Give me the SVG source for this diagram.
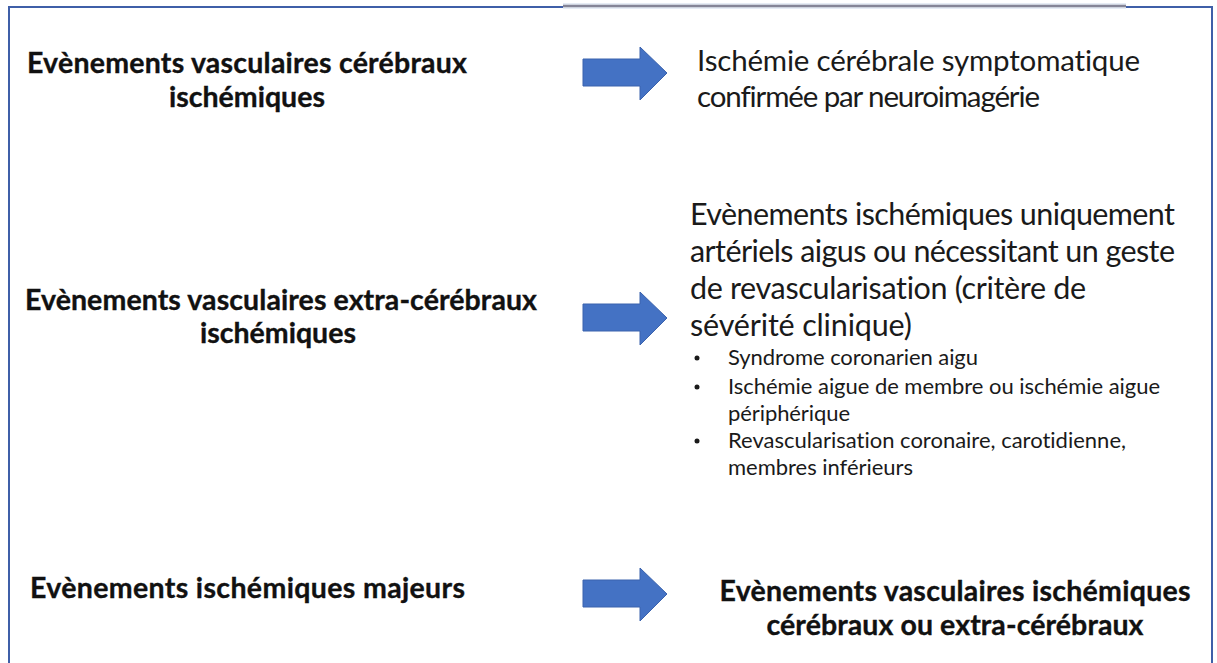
<svg xmlns="http://www.w3.org/2000/svg" width="1217" height="663" viewBox="0 0 1217 663">
<style>
text{font-variant-ligatures:none;font-feature-settings:"liga" 0,"dlig" 0;}
.b{font-family:Lato,"Open Sans","Liberation Sans",sans-serif;font-weight:bold;fill:#111;stroke:#111;stroke-width:0.35;}
.r{font-family:Lato,"Open Sans","Liberation Sans",sans-serif;fill:#1a1a1a;}
.L{font-size:28.5px;}
.R{font-size:29.5px;}
.M{font-size:30.5px;}
.S{font-size:22px;}
.frame{fill:none;stroke:#3f5fa8;stroke-width:2;}
.arrow{fill:#4472c4;stroke:#3a62ad;stroke-width:1;}
</style>
<defs>
<path id="arr" d="M583,59 H640 V47 L667,73 L640,100 V86 H583 Z"/>
</defs>
<rect width="1217" height="663" fill="#ffffff"/>
<g id="frame">
<path class="frame" d="M9,663 V7 H563"/>
<line x1="563" y1="6" x2="1126" y2="6" stroke="#e6ecf5" stroke-width="6"/>
<line x1="563" y1="6" x2="1126" y2="6" stroke="#858597" stroke-width="2.5"/>
<path class="frame" d="M1126,7 H1212 V663"/>
</g>
<g id="connectors">
<use href="#arr" class="arrow"/>
<use href="#arr" class="arrow" transform="translate(0,245)"/>
<use href="#arr" class="arrow" transform="translate(0,521)"/>
</g>
<g id="n1-left">
<text class="b L" x="27" y="73" textLength="440">Evènements vasculaires cérébraux</text>
<text class="b L" x="247" y="107" text-anchor="middle">ischémiques</text>
</g>
<g id="n1-right">
<text class="r R" x="697" y="71" textLength="443">Ischémie cérébrale symptomatique</text>
<text class="r R" x="697" y="107" textLength="343">confirmée par neuroimagérie</text>
</g>
<g id="n2-left">
<text class="b L" x="25" y="310" textLength="512">Evènements vasculaires extra-cérébraux</text>
<text class="b L" x="278" y="343" text-anchor="middle">ischémiques</text>
</g>
<g id="n2-right">
<text class="r M" x="690" y="225" textLength="485">Evènements ischémiques uniquement</text>
<text class="r M" x="690" y="262" textLength="485">artériels aigus ou nécessitant un geste</text>
<text class="r M" x="690" y="299" textLength="396">de revascularisation (critère de</text>
<text class="r M" x="690" y="336" textLength="222">sévérité clinique)</text>
<g class="r S">
<circle cx="697" cy="358" r="2.5" fill="#1a1a1a"/>
<text x="728" y="365" textLength="250">Syndrome coronarien aigu</text>
<circle cx="697" cy="387" r="2.5" fill="#1a1a1a"/>
<text x="728" y="394" textLength="432">Ischémie aigue de membre ou ischémie aigue</text>
<text x="728" y="421" textLength="122">périphérique</text>
<circle cx="697" cy="441" r="2.5" fill="#1a1a1a"/>
<text x="728" y="448" textLength="398">Revascularisation coronaire, carotidienne,</text>
<text x="728" y="475" textLength="185">membres inférieurs</text>
</g>
</g>
<g id="n3-left">
<text class="b L" x="30" y="598" textLength="435">Evènements ischémiques majeurs</text>
</g>
<g id="n3-right">
<text class="b L" x="955" y="601" text-anchor="middle" textLength="471">Evènements vasculaires ischémiques</text>
<text class="b L" x="955" y="635" text-anchor="middle" textLength="377">cérébraux ou extra-cérébraux</text>
</g>
</svg>
